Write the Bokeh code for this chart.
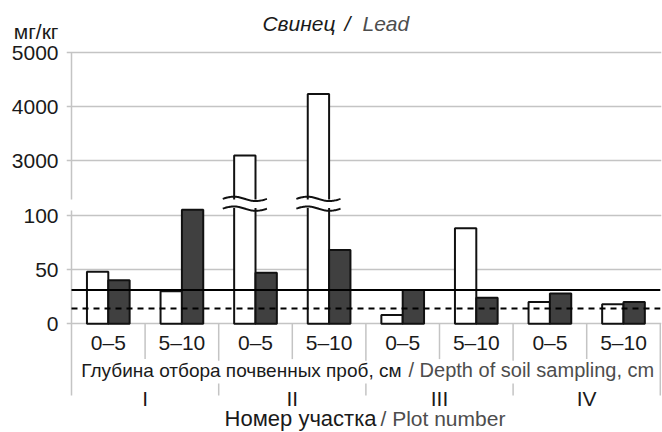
from bokeh.plotting import figure
from bokeh.models import Range1d, FixedTicker
from bokeh.core.properties import value
from bokeh.embed import file_html
from bokeh.resources import INLINE
import numpy as np

# ---------------- data ----------------
plots = ["I", "II", "III", "IV"]
depths = ["0–5", "5–10"]
white_vals = [48, 30, 3100, 4230, 8, 88, 20, 18]   # open bars
dark_vals = [40, 105, 47, 68, 31, 24, 28, 20]      # filled bars
tick_values = [0, 50, 100, 3000, 4000, 5000]
tick_labels = ["0", "50", "100", "3000", "4000", "5000"]
unit_label = "мг/кг"
solid_level = 31     # solid reference line
dashed_level = 14    # dashed reference line

FONT = "Liberation Sans"
GRID = "#c4c4c4"
TXT = "#1a1a1a"
GRAY_TXT = "#4d4d4d"

PX_UNIT = 1.0864   # pixels per y unit (lower band)
Y0_PX = 323.3      # pixel row of zero


def tr(v):
    """broken axis: lower band linear 0..~115, upper band 3000+ at 1000 per 50 units"""
    if v < 1000:
        return v
    return 150 + (v - 3000) / 1000 * 50


def ypx(px):
    """y unit for a text baseline (pixel row, corrected for baseline offset)"""
    return (Y0_PX - (px - 8.5)) / PX_UNIT


ncat = len(plots) * len(depths)
centers = np.arange(ncat) + 0.5
bw = 0.29
off = 0.145

px_per_cat = 73.6
x0 = -5 / px_per_cat
p = figure(width=662, height=432, output_backend="svg", toolbar_location=None,
           title=None, x_axis_type=None,
           x_range=Range1d(x0, x0 + 595 / px_per_cat),
           y_range=Range1d(-(432 - Y0_PX) / PX_UNIT, Y0_PX / PX_UNIT),
           min_border_left=66, min_border_right=1, min_border_top=0, min_border_bottom=0)
p.outline_line_color = None
p.background_fill_color = "white"
p.border_fill_color = "white"
p.xgrid.visible = False

tv = [tr(v) for v in tick_values]
unit_pos = (Y0_PX - 31) / PX_UNIT
p.yaxis.ticker = FixedTicker(ticks=tv + [unit_pos])
overrides = {t: l for t, l in zip(tv, tick_labels)}
overrides[unit_pos] = unit_label
p.yaxis.major_label_overrides = overrides
p.yaxis.axis_line_color = None
p.yaxis.major_tick_line_color = None
p.yaxis.major_tick_out = 0
p.yaxis.major_tick_in = 0
p.yaxis.minor_tick_line_color = None
p.yaxis.major_label_text_font = FONT
p.yaxis.major_label_text_font_size = "21px"
p.yaxis.major_label_text_color = TXT
p.yaxis.major_label_standoff = 8
p.ygrid.ticker = FixedTicker(ticks=tv)
p.ygrid.grid_line_color = GRID
p.ygrid.grid_line_width = 1.5

# axis line (with break gap) and category separators
top_t = tr(tick_values[-1])
p.segment(x0=[0, 0], y0=[top_t, 104.3], x1=[0, 0], y1=[114.4, -66], line_color=GRID, line_width=1.5)
grp_x = [2 * (i + 1) for i in range(len(plots))]
p.segment(x0=grp_x, y0=[0] * len(grp_x), x1=grp_x, y1=[-66] * len(grp_x), line_color=GRID, line_width=1.5)
inner_x = [2 * i + 1 for i in range(len(plots))]
p.segment(x0=inner_x, y0=[0] * len(inner_x), x1=inner_x, y1=[-32.5] * len(inner_x), line_color=GRID, line_width=1.5)

# bars
p.vbar(x=list(centers - off), top=[tr(v) for v in white_vals], bottom=0, width=bw,
       fill_color="white", line_color="#111111", line_width=2)
p.vbar(x=list(centers + off), top=[tr(v) for v in dark_vals], bottom=0, width=bw,
       fill_color="#404040", line_color="#111111", line_width=2)

# break marks on bars beyond the scale break
for c, v in zip(centers - off, white_vals):
    if v > 1000:
        p.quad(left=c - bw / 2 - 0.03, right=c + bw / 2 + 0.03, bottom=106.5, top=114.5,
               fill_color="white", line_color=None)
        xs = np.linspace(c - 0.3, c + 0.3, 50)
        for y0 in (106.0, 115.0):
            ys = y0 + 2.0 * np.sin(2 * np.pi * (xs - (c - 0.3)) / 0.6)
            p.line(list(xs), list(ys), line_color="#111111", line_width=2)

# reference lines
p.segment(x0=[0], y0=[solid_level], x1=[ncat], y1=[solid_level], line_color="black", line_width=2)
p.segment(x0=[0], y0=[dashed_level], x1=[ncat], y1=[dashed_level], line_color="black",
          line_width=2, line_dash="6 5")


def px2x(px):
    return (px - 71) / px_per_cat


def txt(x, y, s, size, align, color, style="normal"):
    p.text(x=[x], y=[y], text=[s], text_font=value(FONT), text_font_size=size,
           text_font_style=style, text_align=align, text_baseline="alphabetic", text_color=color)


# category labels
depth_labels = depths * len(plots)
p.text(x=list(centers), y=[ypx(350)] * ncat, text=depth_labels, text_font=value(FONT),
       text_font_size="21px", text_align="center", text_baseline="alphabetic", text_color=TXT)

# white band behind depth caption (interrupts group separators)
p.quad(left=0.15, right=ncat - 0.15, bottom=-55, top=-34, fill_color="white", line_color=None)
txt(px2x(401), ypx(378.3), "Глубина отбора почвенных проб, см", "19px", "right", TXT)
txt(px2x(408), ypx(378.3), "/ Depth of soil sampling, cm", "20px", "left", GRAY_TXT)

grp_centers = [2 * i + 1 for i in range(len(plots))]
p.text(x=grp_centers, y=[ypx(406.7)] * len(plots), text=plots, text_font=value(FONT),
       text_font_size="21px", text_align="center", text_baseline="alphabetic", text_color=TXT)

txt(px2x(376), ypx(426.5), "Номер участка", "22px", "right", TXT)
txt(px2x(380), ypx(426.5), "/ Plot number", "21px", "left", GRAY_TXT)

# title
txt(px2x(335), ypx(31), "Свинец", "21px", "right", TXT, "italic")
txt(px2x(344), ypx(31), "/", "21px", "left", TXT, "italic")
txt(px2x(362), ypx(31), "Lead", "21px", "left", GRAY_TXT, "italic")

open("out.html", "w").write(file_html(p, INLINE))
